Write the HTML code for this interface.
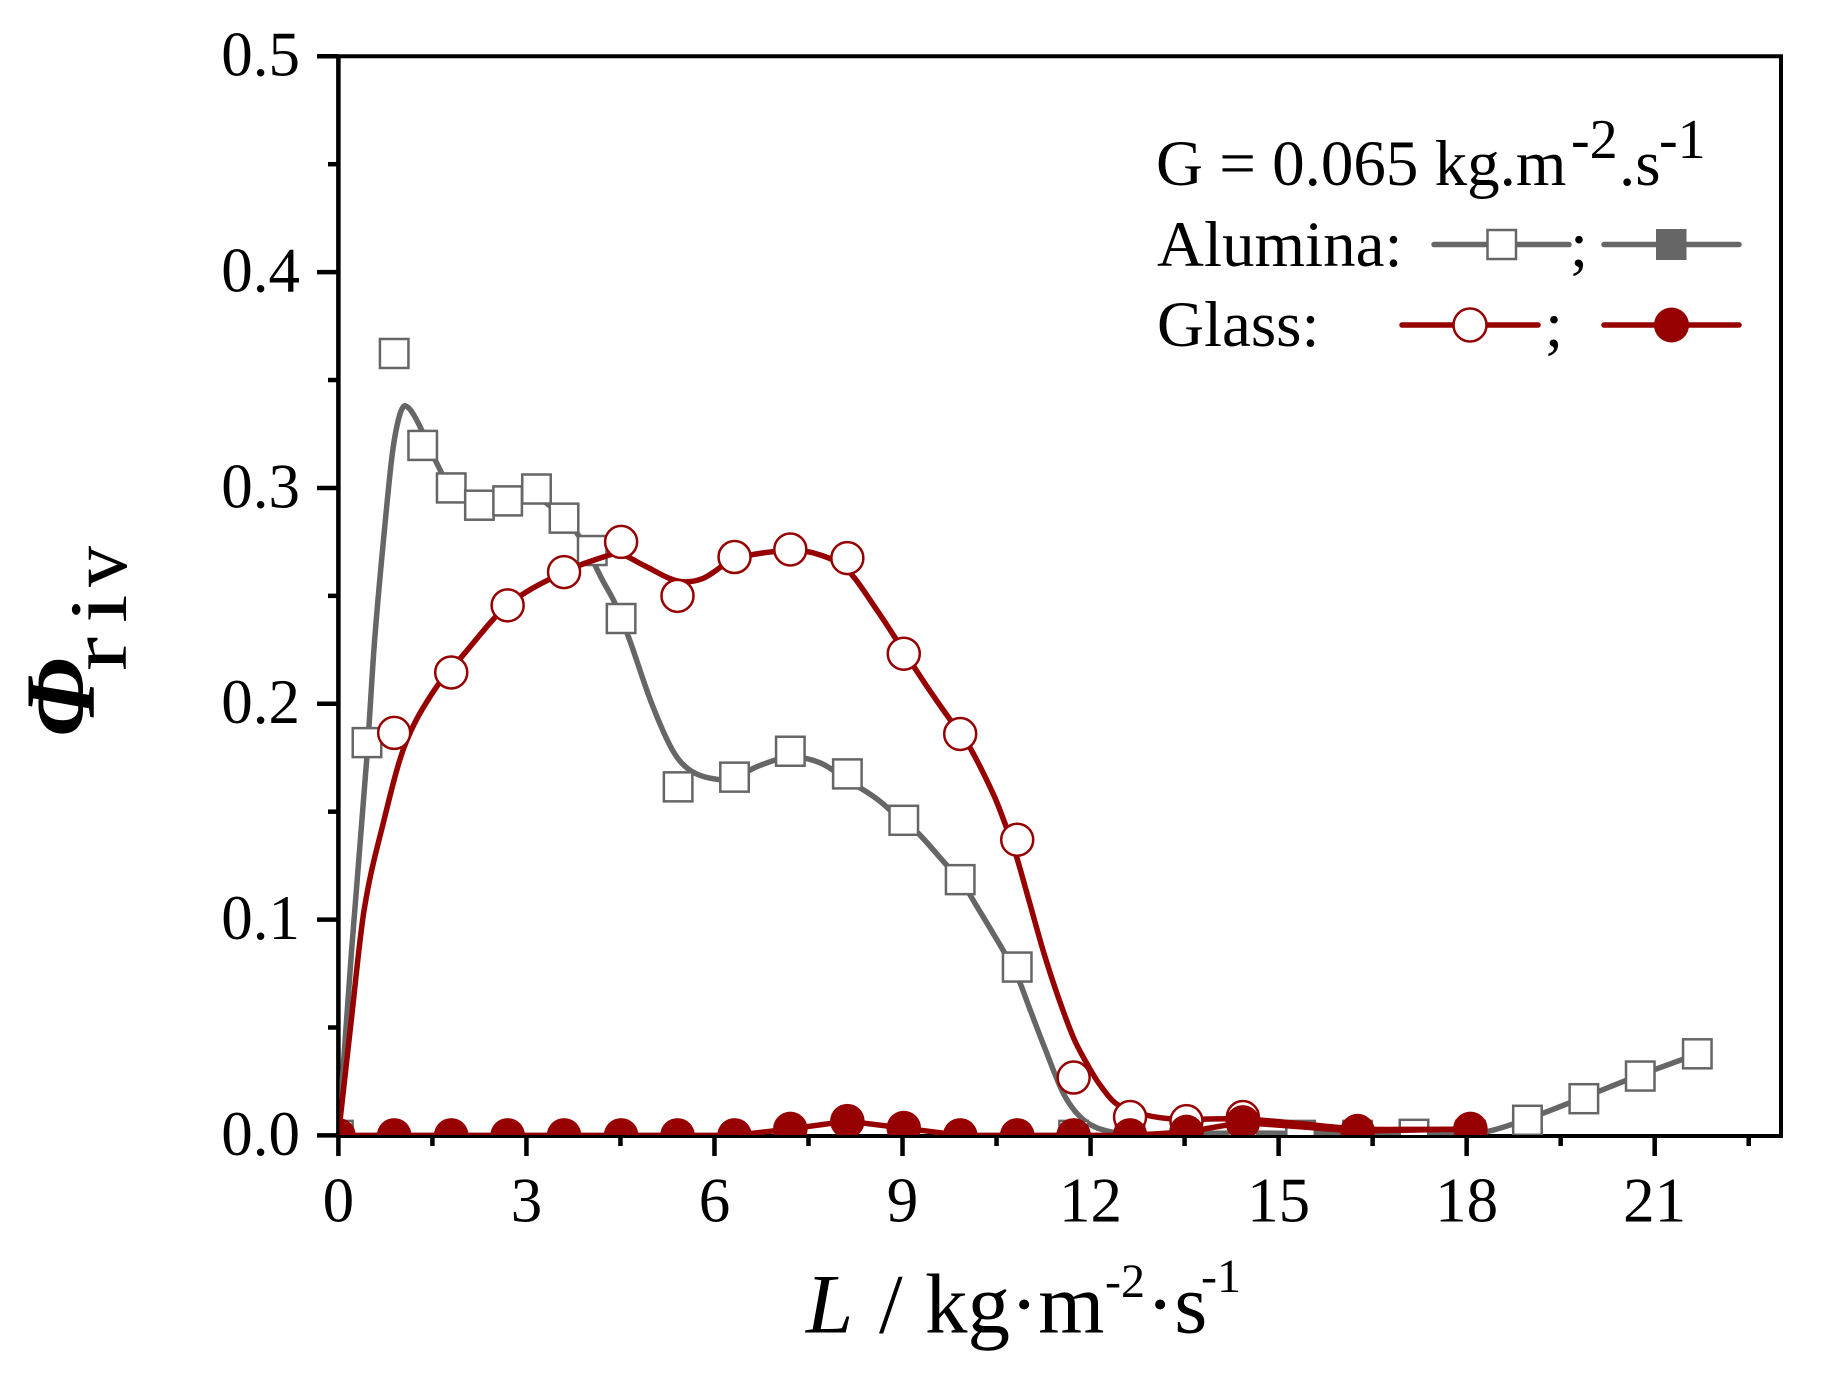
<!DOCTYPE html>
<html lang="en">
<head>
<meta charset="utf-8">
<title>Phi riv vs L</title>
<style>
html,body{margin:0;padding:0;background:#fff;width:1836px;height:1380px;overflow:hidden}
svg{display:block}
text{font-family:"Liberation Serif","DejaVu Serif",serif;fill:#000}
</style>
</head>
<body>
<svg id="chart" xmlns="http://www.w3.org/2000/svg" width="1836" height="1380" viewBox="0 0 1836 1380">
  <defs>
    <clipPath id="plot-clip"><rect x="339.5" y="50" width="1440" height="1085"/></clipPath>
  </defs>
  <rect x="0" y="0" width="1836" height="1380" fill="#fff"/>
  <g id="axes"></g>
  <g id="series" clip-path="url(#plot-clip)"></g>

  <g>
    <text transform="translate(94,737) rotate(-90)" font-size="100" font-weight="bold" font-style="italic">Φ</text>
    <text transform="translate(126,671) rotate(-90) scale(1.25,1)" font-size="82">r</text>
    <text transform="translate(126,623) rotate(-90) scale(1.25,1)" font-size="82">i</text>
    <text transform="translate(126,587) rotate(-90)" font-size="82">v</text>
  </g>

  <g>
    <text x="806" y="1332.5" font-size="85" font-style="italic">L</text>
    <text x="879" y="1332.5" font-size="85">/</text>
    <text x="925" y="1332.5" font-size="85">kg·m</text>
    <text x="1105" y="1297" font-size="48">-2</text>
    <text x="1146" y="1332.5" font-size="85">·s</text>
    <text x="1201" y="1292" font-size="48">-1</text>
  </g>

  <g>
    <text x="1156" y="185" font-size="65">G = 0.065 kg.m</text>
    <text x="1571" y="158" font-size="56">-2</text>
    <text x="1619" y="185" font-size="65">.s</text>
    <text x="1659" y="158" font-size="56">-1</text>

    <text x="1157" y="266" font-size="65">Alumina:</text>
    <line x1="1434" x2="1569" y1="244.5" y2="244.5" stroke="#666" stroke-width="5.5" stroke-linecap="round"/>
    <rect x="1487.5" y="230" width="28.5" height="29" fill="#fff" stroke="#666" stroke-width="2.5"/>
    <text x="1570" y="266" font-size="65">;</text>
    <line x1="1604" x2="1739" y1="244.5" y2="244.5" stroke="#666" stroke-width="5.5" stroke-linecap="round"/>
    <rect x="1656" y="229" width="30.5" height="31" fill="#666"/>

    <text x="1157" y="346" font-size="65">Glass:</text>
    <line x1="1402" x2="1538" y1="325" y2="325" stroke="#960000" stroke-width="5.5" stroke-linecap="round"/>
    <circle cx="1470" cy="325" r="16.5" fill="#fff" stroke="#960000" stroke-width="2.5"/>
    <text x="1545" y="346" font-size="65">;</text>
    <line x1="1604" x2="1739" y1="325" y2="325" stroke="#960000" stroke-width="5.5" stroke-linecap="round"/>
    <circle cx="1671.5" cy="325" r="17.5" fill="#960000"/>
  </g>
</svg>
<script>
// Tick labels
const xMajorTicks = [0, 3, 6, 9, 12, 15, 18, 21];
const xMinorTicks = [1.5, 4.5, 7.5, 10.5, 13.5, 16.5, 19.5, 22.5];
const yMajorTicks = [0, 0.1, 0.2, 0.3, 0.4, 0.5];
const yMinorTicks = [0.05, 0.15, 0.25, 0.35, 0.45];

// Alumina, open symbols: measured points
const aluminaOpenX = [0, 0.456, 0.89, 1.345, 1.8, 2.25, 2.7, 3.16, 3.6, 4.05, 4.51, 5.42, 6.32, 7.21, 8.12, 9.02, 9.92, 10.83, 11.73, 12.63, 13.53, 14.43, 15.35, 16.26, 17.16, 18.06, 18.97, 19.87, 20.77, 21.68];
const aluminaOpenY = [0, 0.182, 0.3623, 0.3197, 0.3, 0.292, 0.294, 0.2995, 0.286, 0.271, 0.2395, 0.1615, 0.166, 0.178, 0.1675, 0.146, 0.1185, 0.078, 0, 0, 0, 0, 0, 0, 0.0005, 0, 0.007, 0.017, 0.0275, 0.0378];

// Alumina, open symbols: fitted curve
const aluminaCurveX = [0, 0.206, 0.456, 0.58, 0.766, 0.87, 0.98, 1.074, 1.252, 1.56, 1.8, 2.25, 2.7, 3.0, 3.38, 3.85, 4.22, 4.41, 4.64, 5.0, 5.34, 5.62, 6.04, 6.32, 6.74, 7.21, 7.68, 8.12, 8.61, 9.02, 9.25, 9.69, 9.92, 10.18, 10.6, 10.83, 11.02, 11.26, 11.58, 11.91, 12.33, 12.8, 14, 15.5, 17, 18, 18.36, 18.97, 19.87, 20.77, 21.68];
const aluminaCurveY = [0, 0.084, 0.1758, 0.2303, 0.29, 0.318, 0.334, 0.338, 0.3313, 0.312, 0.3, 0.294, 0.294, 0.297, 0.2916, 0.2773, 0.2569, 0.2467, 0.23, 0.2, 0.178, 0.169, 0.165, 0.166, 0.1716, 0.1753, 0.1727, 0.1647, 0.1555, 0.145, 0.14, 0.1257, 0.1187, 0.1064, 0.086, 0.0738, 0.0594, 0.0412, 0.0187, 0.0067, 0.0016, 0.0005, 0.001, 0.001, 0.001, 0.0012, 0.002, 0.0076, 0.0177, 0.028, 0.0377];

// Glass, open symbols: measured points
const glassOpenX = [0.89, 1.8, 2.7, 3.6, 4.51, 5.41, 6.32, 7.21, 8.12, 9.02, 9.92, 10.83, 11.73, 12.63, 13.53, 14.43];
const glassOpenY = [0.1865, 0.2145, 0.2456, 0.261, 0.275, 0.25, 0.268, 0.2715, 0.2675, 0.2232, 0.186, 0.137, 0.0268, 0.0085, 0.0066, 0.0085];

// Glass, open symbols: fitted curve
const glassCurveX = [0, 0.2, 0.41, 0.72, 1.05, 1.5, 1.98, 2.7, 3.6, 4.32, 4.5, 4.88, 5.41, 5.81, 6.32, 7.21, 7.68, 8.12, 8.61, 9.02, 9.43, 9.92, 10.09, 10.46, 10.65, 10.8, 11.02, 11.26, 11.49, 11.73, 11.91, 12.14, 12.42, 12.89, 13.36, 14.43, 15.32, 16.26, 17.19, 18.06];
const glassCurveY = [0, 0.052, 0.1044, 0.1452, 0.18, 0.205, 0.2222, 0.2456, 0.261, 0.2689, 0.2695, 0.264, 0.2569, 0.258, 0.267, 0.271, 0.269, 0.262, 0.2426, 0.2244, 0.2063, 0.186, 0.179, 0.1574, 0.1433, 0.131, 0.1086, 0.084, 0.0636, 0.0451, 0.0349, 0.0238, 0.0145, 0.0094, 0.0076, 0.0076, 0.0055, 0.003, 0.0028, 0.0028];

// Glass, filled symbols
const glassFilledX = [0, 0.89, 1.8, 2.7, 3.6, 4.51, 5.41, 6.32, 7.21, 8.12, 9.02, 9.92, 10.83, 11.73, 12.63, 13.53, 14.43, 16.26, 18.06];
const glassFilledY = [0, 0, 0, 0, 0, 0, 0, 0, 0.003, 0.0066, 0.0034, 0, 0, 0, 0, 0.0016, 0.006, 0.002, 0.003];

const NS = 'http://www.w3.org/2000/svg';
const GRAY = '#666';
const RED = '#960000';
const X0 = 338.4, XPerUnit = 62.68, Y0 = 1135.4, YPerUnit = 2158.2;
const xScale = function (v) { return X0 + v * XPerUnit; };
const yScale = function (v) { return Y0 - v * YPerUnit; };
const axes = document.getElementById('axes');
const series = document.getElementById('series');

function make(tag, parent, attrs) {
  const el = document.createElementNS(NS, tag);
  Object.keys(attrs).forEach(function (k) { el.setAttribute(k, attrs[k]); });
  parent.appendChild(el);
  return el;
}

function smoothPath(xs, ys) {
  const px = xs.map(xScale), py = ys.map(yScale), n = px.length, m = [];
  for (let i = 0; i < n; i++) {
    const a = Math.max(i - 1, 0), b = Math.min(i + 1, n - 1);
    m.push((py[b] - py[a]) / (px[b] - px[a]));
  }
  let d = 'M' + px[0].toFixed(2) + ' ' + py[0].toFixed(2);
  for (let i = 0; i < n - 1; i++) {
    const h = (px[i + 1] - px[i]) / 3;
    d += ' C' + (px[i] + h).toFixed(2) + ' ' + (py[i] + m[i] * h).toFixed(2) + ' ' +
         (px[i + 1] - h).toFixed(2) + ' ' + (py[i + 1] - m[i + 1] * h).toFixed(2) + ' ' +
         px[i + 1].toFixed(2) + ' ' + py[i + 1].toFixed(2);
  }
  return d;
}

// Axis frame
const frame = make('path', axes, {d: 'M338.4 56.3 H1781 V1136 H338.4 Z', fill: 'none', stroke: '#000', 'stroke-width': 4});


const leftSpine = make('line', axes, {x1: 338.4, x2: 338.4, y1: 55, y2: 1137, stroke: '#000', 'stroke-width': 4.5});



xMajorTicks.forEach(function (v) {
  const t = make('line', axes, {x1: xScale(v), x2: xScale(v), y1: 1136, y2: 1156, stroke: '#000', 'stroke-width': 4.5});
  
  
  const l = make('text', axes, {x: xScale(v), y: 1221.7, 'font-size': 63, 'text-anchor': 'middle'});
  
  
  l.textContent = String(v);
});
xMinorTicks.forEach(function (v) {
  const t = make('line', axes, {x1: xScale(v), x2: xScale(v), y1: 1136, y2: 1146, stroke: '#000', 'stroke-width': 4.5});
  
  
});
yMajorTicks.forEach(function (v) {
  const t = make('line', axes, {x1: 317, x2: 338.4, y1: yScale(v), y2: yScale(v), stroke: '#000', 'stroke-width': 4.5});
  
  
  const l = make('text', axes, {x: 300, y: yScale(v) + 19.4, 'font-size': 63, 'text-anchor': 'end'});
  
  
  l.textContent = v.toFixed(1);
});
yMinorTicks.forEach(function (v) {
  const t = make('line', axes, {x1: 328, x2: 338.4, y1: yScale(v), y2: yScale(v), stroke: '#000', 'stroke-width': 4.5});
  
  
});

// Alumina open series
const aluminaLine = make('path', series, {d: smoothPath(aluminaCurveX, aluminaCurveY), fill: 'none', stroke: GRAY, 'stroke-width': 5.5});


aluminaOpenX.forEach(function (x, i) {
  const s = make('rect', series, {x: xScale(x) - 14.25, y: yScale(aluminaOpenY[i]) - 14.5, width: 28.5, height: 29, fill: '#fff', stroke: GRAY, 'stroke-width': 2.5});
  
  
});

// Glass open series
const glassLine = make('path', series, {d: smoothPath(glassCurveX, glassCurveY), fill: 'none', stroke: RED, 'stroke-width': 5.5});


glassOpenX.forEach(function (x, i) {
  const c = make('circle', series, {cx: xScale(x), cy: yScale(glassOpenY[i]), r: 16, fill: '#fff', stroke: RED, 'stroke-width': 2.5});
  
  
});

// Glass filled series
const glassFilledLine = make('path', series, {d: 'M' + glassFilledX.map(function (x, i) { return xScale(x).toFixed(2) + ' ' + yScale(glassFilledY[i]).toFixed(2); }).join(' L'), fill: 'none', stroke: RED, 'stroke-width': 5.5});


glassFilledX.forEach(function (x, i) {
  const c = make('circle', series, {cx: xScale(x), cy: yScale(glassFilledY[i]), r: 17.3, fill: RED});
  
  
});
</script>
</body>
</html>
